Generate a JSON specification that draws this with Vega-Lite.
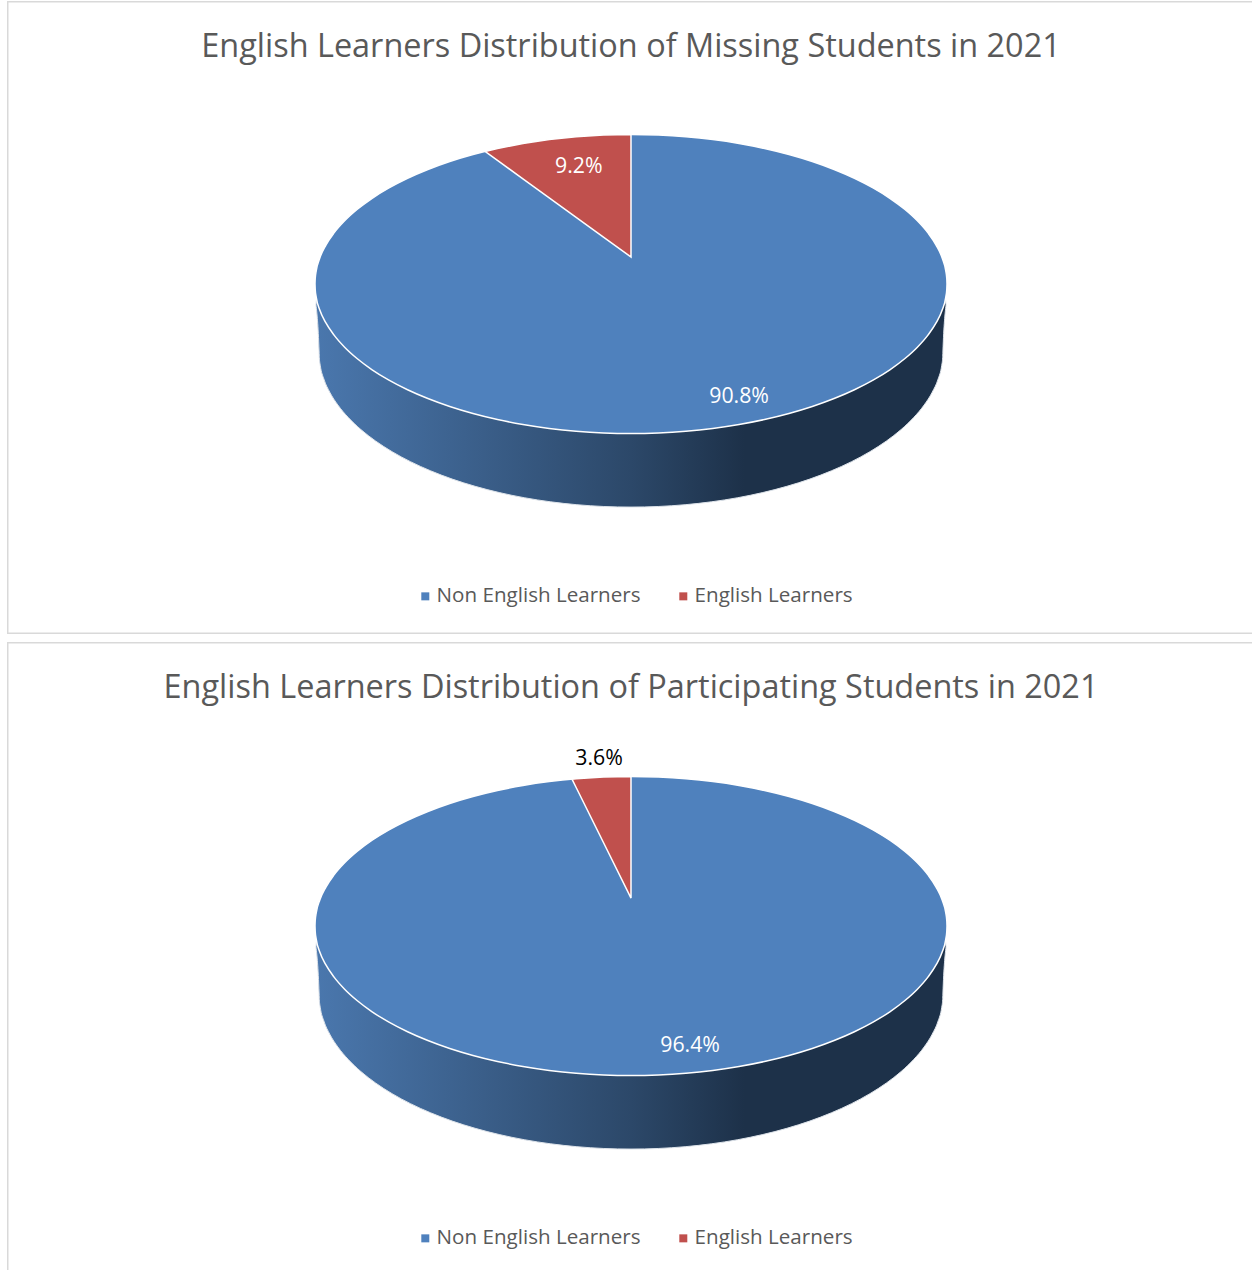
{"$schema":"https://vega.github.io/schema/vega-lite/v6.json","padding":{"left":7,"top":1,"right":0,"bottom":0},"spacing":8,"background":"white","config":{"view":{"stroke":null},"font":"Open Sans"},"resolve":{"scale":{"color":"independent"},"legend":{"color":"independent"}},"datasets":{"disc":[{"across":-1,"upper":0,"lower":0},{"across":-0.9994,"upper":0.0349,"lower":-0.0349},{"across":-0.9962,"upper":0.0872,"lower":-0.0872},{"across":-0.9848,"upper":0.1736,"lower":-0.1736},{"across":-0.9659,"upper":0.2588,"lower":-0.2588},{"across":-0.9397,"upper":0.342,"lower":-0.342},{"across":-0.9063,"upper":0.4226,"lower":-0.4226},{"across":-0.866,"upper":0.5,"lower":-0.5},{"across":-0.8192,"upper":0.5736,"lower":-0.5736},{"across":-0.766,"upper":0.6428,"lower":-0.6428},{"across":-0.7071,"upper":0.7071,"lower":-0.7071},{"across":-0.6428,"upper":0.766,"lower":-0.766},{"across":-0.5736,"upper":0.8192,"lower":-0.8192},{"across":-0.5,"upper":0.866,"lower":-0.866},{"across":-0.4226,"upper":0.9063,"lower":-0.9063},{"across":-0.342,"upper":0.9397,"lower":-0.9397},{"across":-0.2588,"upper":0.9659,"lower":-0.9659},{"across":-0.1736,"upper":0.9848,"lower":-0.9848},{"across":-0.0872,"upper":0.9962,"lower":-0.9962},{"across":0,"upper":1,"lower":-1},{"across":0.0872,"upper":0.9962,"lower":-0.9962},{"across":0.1736,"upper":0.9848,"lower":-0.9848},{"across":0.2588,"upper":0.9659,"lower":-0.9659},{"across":0.342,"upper":0.9397,"lower":-0.9397},{"across":0.4226,"upper":0.9063,"lower":-0.9063},{"across":0.5,"upper":0.866,"lower":-0.866},{"across":0.5736,"upper":0.8192,"lower":-0.8192},{"across":0.6428,"upper":0.766,"lower":-0.766},{"across":0.7071,"upper":0.7071,"lower":-0.7071},{"across":0.766,"upper":0.6428,"lower":-0.6428},{"across":0.8192,"upper":0.5736,"lower":-0.5736},{"across":0.866,"upper":0.5,"lower":-0.5},{"across":0.9063,"upper":0.4226,"lower":-0.4226},{"across":0.9397,"upper":0.342,"lower":-0.342},{"across":0.9659,"upper":0.2588,"lower":-0.2588},{"across":0.9848,"upper":0.1736,"lower":-0.1736},{"across":0.9962,"upper":0.0872,"lower":-0.0872},{"across":0.9994,"upper":0.0349,"lower":-0.0349},{"across":1,"upper":0,"lower":0}],"side":[{"across":-0.997,"upper":-0.14,"lower":-0.14},{"across":-0.987,"upper":0,"lower":-0.455},{"across":-0.9864,"upper":0,"lower":-0.4912},{"across":-0.9832,"upper":0,"lower":-0.5454},{"across":-0.972,"upper":0,"lower":-0.635},{"across":-0.9533,"upper":0,"lower":-0.7234},{"across":-0.9275,"upper":0,"lower":-0.8097},{"across":-0.8945,"upper":0,"lower":-0.8932},{"across":-0.8548,"upper":0,"lower":-0.9735},{"across":-0.8085,"upper":0,"lower":-1.0498},{"across":-0.756,"upper":0,"lower":-1.1216},{"across":-0.6979,"upper":0,"lower":-1.1883},{"across":-0.6344,"upper":0,"lower":-1.2493},{"across":-0.5661,"upper":0,"lower":-1.3045},{"across":-0.4935,"upper":0,"lower":-1.353},{"across":-0.4171,"upper":0,"lower":-1.3948},{"across":-0.3376,"upper":0,"lower":-1.4295},{"across":-0.2554,"upper":0,"lower":-1.4566},{"across":-0.1713,"upper":0,"lower":-1.4762},{"across":-0.0861,"upper":0,"lower":-1.4881},{"across":0,"upper":0,"lower":-1.492},{"across":0.0861,"upper":0,"lower":-1.4881},{"across":0.1713,"upper":0,"lower":-1.4762},{"across":0.2554,"upper":0,"lower":-1.4566},{"across":0.3376,"upper":0,"lower":-1.4295},{"across":0.4171,"upper":0,"lower":-1.3948},{"across":0.4935,"upper":0,"lower":-1.353},{"across":0.5661,"upper":0,"lower":-1.3045},{"across":0.6344,"upper":0,"lower":-1.2493},{"across":0.6979,"upper":0,"lower":-1.1883},{"across":0.756,"upper":0,"lower":-1.1216},{"across":0.8085,"upper":0,"lower":-1.0498},{"across":0.8548,"upper":0,"lower":-0.9735},{"across":0.8945,"upper":0,"lower":-0.8932},{"across":0.9275,"upper":0,"lower":-0.8097},{"across":0.9533,"upper":0,"lower":-0.7234},{"across":0.972,"upper":0,"lower":-0.635},{"across":0.9832,"upper":0,"lower":-0.5454},{"across":0.9864,"upper":0,"lower":-0.4912},{"across":0.987,"upper":0,"lower":-0.455},{"across":0.997,"upper":-0.14,"lower":-0.14}]},"vconcat":[{"width":1245,"height":633,"title":{"text":"English Learners Distribution of Missing Students in 2021","anchor":"middle","frame":"group","offset":-62,"dx":1.5,"fontSize":32.45,"fontWeight":"normal","color":"#595959","font":"Open Sans"},"encoding":{"x":{"field":"across","type":"quantitative","axis":null,"scale":{"domain":[-1.9747,1.9652],"nice":false,"zero":false}},"y":{"field":"upper","type":"quantitative","axis":null,"stack":null,"scale":{"domain":[-2.341,1.893],"nice":false,"zero":false}},"y2":{"field":"lower"}},"layer":[{"data":{"values":[{"edge":"left","across":-1.9747,"upper":1.893},{"edge":"left","across":-1.9747,"upper":-2.341},{"edge":"top","across":-1.9747,"upper":1.893},{"edge":"top","across":1.9652,"upper":1.893},{"edge":"bottom","across":-1.9747,"upper":-2.341},{"edge":"bottom","across":1.9652,"upper":-2.341}]},"mark":{"type":"line","color":"#d9d9d9","strokeWidth":3,"clip":true},"encoding":{"y2":null,"detail":{"field":"edge"}}},{"data":{"name":"side"},"mark":{"type":"area","interpolate":"monotone","stroke":"#dde3ea","strokeWidth":1,"fill":{"gradient":"linear","x1":0,"x2":1,"y1":0,"y2":0,"stops":[{"offset":0,"color":"#4a77ad"},{"offset":0.5,"color":"#2c4869"},{"offset":0.68,"color":"#1d3149"},{"offset":1,"color":"#1d3149"}]}}},{"data":{"name":"disc"},"mark":{"type":"area","interpolate":"monotone","stroke":"white","strokeWidth":1.5},"encoding":{"color":{"datum":"Non English Learners","scale":{"domain":["Non English Learners","English Learners"],"range":["#4f81bd","#c0504d"]},"legend":{"orient":"none","legendX":408,"legendY":585,"direction":"horizontal","columns":2,"title":null,"symbolType":"square","symbolSize":64,"symbolStrokeWidth":0,"labelFontSize":20.6,"labelColor":"#595959","labelFont":"Open Sans","labelOffset":1,"labelLimit":400,"columnPadding":32,"padding":0}}}},{"data":{"values":[{"across":-0.462,"upper":0.887,"lower":0.887},{"across":-0.4226,"upper":0.9063,"lower":0.8268},{"across":-0.342,"upper":0.9397,"lower":0.7035},{"across":-0.2588,"upper":0.9659,"lower":0.5763},{"across":-0.1736,"upper":0.9848,"lower":0.446},{"across":-0.0872,"upper":0.9962,"lower":0.3139},{"across":0,"upper":1,"lower":0.1806}]},"mark":{"type":"area","stroke":"white","strokeWidth":1.5},"encoding":{"color":{"datum":"English Learners"}}},{"data":{"values":[{"across":-0.165,"upper":0.796,"label":"9.2%"},{"across":0.342,"upper":-0.742,"label":"90.8%"}]},"mark":{"type":"text","fontSize":21.3,"font":"Open Sans","color":"white","align":"center","baseline":"middle","dy":2},"encoding":{"y2":null,"text":{"field":"label"}}}]},{"width":1245,"height":628,"title":{"text":"English Learners Distribution of Participating Students in 2021","anchor":"middle","frame":"group","offset":-62,"dx":1.5,"fontSize":32.45,"fontWeight":"normal","color":"#595959","font":"Open Sans"},"encoding":{"x":{"field":"across","type":"quantitative","axis":null,"scale":{"domain":[-1.9747,1.9652],"nice":false,"zero":false}},"y":{"field":"upper","type":"quantitative","axis":null,"stack":null,"scale":{"domain":[-2.301,1.8997],"nice":false,"zero":false}},"y2":{"field":"lower"}},"layer":[{"data":{"values":[{"edge":"left","across":-1.9747,"upper":1.8997},{"edge":"left","across":-1.9747,"upper":-2.301},{"edge":"top","across":-1.9747,"upper":1.8997},{"edge":"top","across":1.9652,"upper":1.8997}]},"mark":{"type":"line","color":"#d9d9d9","strokeWidth":3,"clip":true},"encoding":{"y2":null,"detail":{"field":"edge"}}},{"data":{"name":"side"},"mark":{"type":"area","interpolate":"monotone","stroke":"#dde3ea","strokeWidth":1,"fill":{"gradient":"linear","x1":0,"x2":1,"y1":0,"y2":0,"stops":[{"offset":0,"color":"#4a77ad"},{"offset":0.5,"color":"#2c4869"},{"offset":0.68,"color":"#1d3149"},{"offset":1,"color":"#1d3149"}]}}},{"data":{"name":"disc"},"mark":{"type":"area","interpolate":"monotone","stroke":"white","strokeWidth":1.5},"encoding":{"color":{"datum":"Non English Learners","scale":{"domain":["Non English Learners","English Learners"],"range":["#4f81bd","#c0504d"]},"legend":{"orient":"none","legendX":408,"legendY":586,"direction":"horizontal","columns":2,"title":null,"symbolType":"square","symbolSize":64,"symbolStrokeWidth":0,"labelFontSize":20.6,"labelColor":"#595959","labelFont":"Open Sans","labelOffset":1,"labelLimit":400,"columnPadding":32,"padding":0}}}},{"data":{"values":[{"across":-0.1867,"upper":0.9824,"lower":0.9824},{"across":-0.1736,"upper":0.9848,"lower":0.9266},{"across":-0.0872,"upper":0.9962,"lower":0.5585},{"across":0,"upper":1,"lower":0.187}]},"mark":{"type":"area","stroke":"white","strokeWidth":1.5},"encoding":{"color":{"datum":"English Learners"}}},{"data":{"values":[{"across":-0.101,"upper":1.13,"label":"3.6%"},{"across":0.187,"upper":-0.789,"label":"96.4%"}]},"mark":{"type":"text","fontSize":21.3,"font":"Open Sans","align":"center","baseline":"middle","dy":2},"encoding":{"y2":null,"text":{"field":"label"},"color":{"condition":{"test":"datum.label === '3.6%'","value":"black"},"value":"white"}}}]}]}
